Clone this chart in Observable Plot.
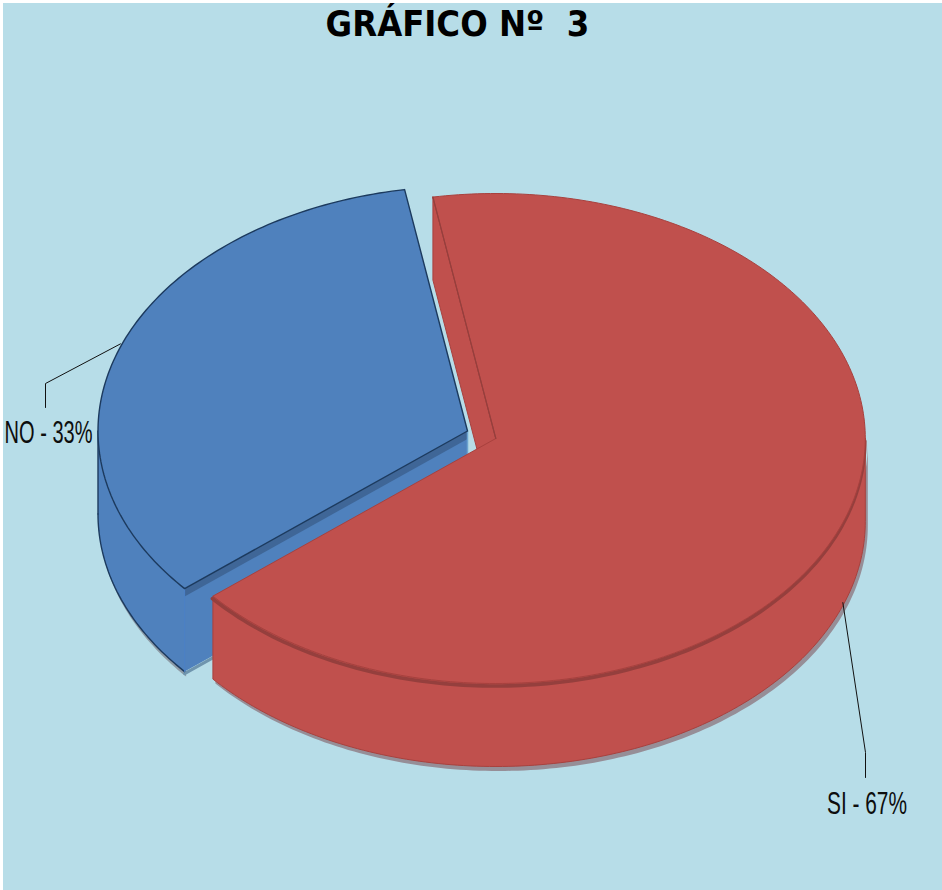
<!DOCTYPE html>
<html lang="es">
<head>
<meta charset="utf-8">
<title>GRÁFICO Nº 3</title>
<script src="https://cdn.jsdelivr.net/npm/d3@7"></script>
<script src="https://cdn.jsdelivr.net/npm/@observablehq/plot@0.6"></script>
<style>
  html, body { margin: 0; padding: 0; background: #fff; overflow: hidden; }
  #frame { position: absolute; left: 3px; top: 3px; width: 939px; height: 887px; background: #b7dde8; }
  #title { height: 40px; margin: 0; width: 909px; text-align: center; white-space: pre;
           font: bold 36px/42px "DejaVu Sans Condensed", "DejaVu Sans", Verdana, sans-serif; color: #000; }
  svg { display: block; }
</style>
</head>
<body>
<div id="frame">
  <div id="title">GRÁFICO Nº  3</div>
  <div id="chart"></div>
</div>
<script>
// Data (slice sizes as drawn; the labels round them)
const categories = ["SI", "NO"];
const shares = [66.6, 33.4];
const labels = ["SI - 67%", "NO - 33%"];

// Drawing layout of the 3D pie
const startAngle = -9.8;           // degrees clockwise from 12 o'clock
const radiusX = 369.5, radiusY = 245, depth = 83;
const centers = {SI: [495.3, 438], NO: [467, 430.5]};
const topColors = {SI: "#c0504d", NO: "#4f81bd"};
const edgeColors = {SI: "#a8413e", NO: "#1c3a5e"};
const leaderElbows = {SI: [[865, 752], [865, 777]], NO: [[45, 383], [45, 407]]};
const labelPos = {SI: [866.5, 803], NO: [48, 432]};
const labelWidth = {SI: 80, NO: 88};

// Angles follow from the shares
const total = d3.sum(shares);
let running = startAngle;
const slices = categories.map((name, i) => {
  const a0 = running, a1 = running + shares[i] / total * 360;
  running = a1;
  return {name, a0, a1, label: labels[i], mid: (a0 + a1) / 2};
});
const SI = slices[0], NO = slices[1];

const rim = (name, deg, dy = 0) => {
  const t = deg * Math.PI / 180, [cx, cy] = centers[name];
  return [cx + radiusX * Math.sin(t), cy - radiusY * Math.cos(t) + dy];
};
const arc = (name, a0, a1, dy = 0) => {
  const n = Math.max(2, Math.ceil(Math.abs(a1 - a0)));
  return d3.range(n + 1).map(i => rim(name, a0 + (a1 - a0) * i / n, dy));
};
const shift = (pts, dx, dy) => pts.map(([x, y]) => [x + dx, y + dy]);
const closed = pts => [...pts, pts[0]];

// Polygons and lines, all derived from the slice angles
const cSI = centers.SI, cNO = centers.NO;
const below = (p, d = depth) => [p[0], p[1] + d];

const siOuterFront = arc("SI", 90, SI.a1);
const siWall = closed([...siOuterFront, ...arc("SI", SI.a1, 90, depth)]);
const siTop = closed([cSI, ...arc("SI", SI.a0, SI.a1)]);
const siFirst = rim("SI", SI.a0);
const siInner = closed([siFirst, below(siFirst), below(cSI), cSI]);

const noEdgeEnd = rim("NO", NO.a0);
const noOuterFront = arc("NO", NO.a0, 270);
const noSide = closed([...noOuterFront, ...arc("NO", 270, NO.a0, depth)]);
const noCut = closed([cNO, noEdgeEnd, below(noEdgeEnd), below(cNO)]);
const noTop = closed([cNO, ...arc("NO", NO.a0, NO.a1)]);
const noBand = closed([cNO, noEdgeEnd, below(noEdgeEnd, 8), below(cNO, 8)]);

const lineMark = (pts, o) => Plot.line(pts, {x: d => d[0], y: d => d[1], curve: "linear", strokeLinejoin: "round", ...o});
const leader = s => {
  const wall = s.name === "SI" ? depth : 0;
  return [rim(s.name, s.mid, wall - 3), ...leaderElbows[s.name]];
};

const plot = Plot.plot({
  width: 939, height: 847,
  margin: 0, marginTop: 0, marginRight: 0, marginBottom: 0, marginLeft: 0,
  x: {domain: [3, 942], range: [0, 939], axis: null},
  y: {domain: [43, 890], range: [0, 847], axis: null},
  style: {background: "transparent"},
  marks: [
    // soft shadows
    lineMark(shift(noSide, 1.5, 5), {fill: "#8d9ba6", stroke: "none"}),
    lineMark(shift(siWall, 2.5, 4.5), {fill: "#968e97", stroke: "none"}),
    // NO slice
    lineMark(noCut, {fill: topColors.NO, stroke: "none"}),
    lineMark(noBand, {fill: "#3f6697", stroke: "none"}),
    lineMark(shift([below(noEdgeEnd), below(cNO)], 0, 2), {stroke: "#6f95ae", strokeWidth: 3}),
    lineMark([cNO, below(cNO)], {stroke: "#6ba3cf", strokeWidth: 1.5}),
    lineMark(noSide, {fill: topColors.NO, stroke: "none"}),
    lineMark(arc("NO", NO.a0, 270, depth), {stroke: edgeColors.NO, strokeWidth: 1.4}),
    lineMark([rim("NO", 270), below(rim("NO", 270))], {stroke: edgeColors.NO, strokeWidth: 1.4}),
    lineMark([noEdgeEnd, below(noEdgeEnd)], {stroke: "#4a7fc6", strokeWidth: 1}),
    lineMark(noTop, {fill: topColors.NO, stroke: edgeColors.NO, strokeWidth: 1.4}),
    // SI slice
    lineMark(siInner, {fill: topColors.SI, stroke: edgeColors.SI, strokeWidth: 1}),
    lineMark(siWall, {fill: topColors.SI, stroke: edgeColors.SI, strokeWidth: 1}),
    lineMark(shift(siOuterFront, -0.5, 2.5), {stroke: "#953f3d", strokeWidth: 3.6}),
    lineMark(siTop, {fill: topColors.SI, stroke: edgeColors.SI, strokeWidth: 1}),
    lineMark([siFirst, cSI], {stroke: "#953f3d", strokeWidth: 1.2}),
    // leaders and labels
    ...slices.map(s => lineMark(leader(s), {stroke: "#111", strokeWidth: 1})),
    Plot.text(slices, {
      x: d => labelPos[d.name][0], y: d => labelPos[d.name][1], text: "label",
      fontSize: 32, fill: "#0d0d0d", textAnchor: "middle", lineAnchor: "middle",
      fontFamily: "'Liberation Sans Narrow', 'Liberation Sans', sans-serif"
    })
  ]
});
document.getElementById("chart").appendChild(plot);
// Squeeze the labels horizontally to the width they have in the picture
d3.select(plot).selectAll("g[aria-label='text'] text").each(function (d, i) {
  const factor = labelWidth[slices[i].name] / this.getComputedTextLength();
  const base = this.getAttribute("transform") || "";
  this.setAttribute("transform", `${base} scale(${factor.toFixed(3)},1)`);
});
</script>
</body>
</html>
